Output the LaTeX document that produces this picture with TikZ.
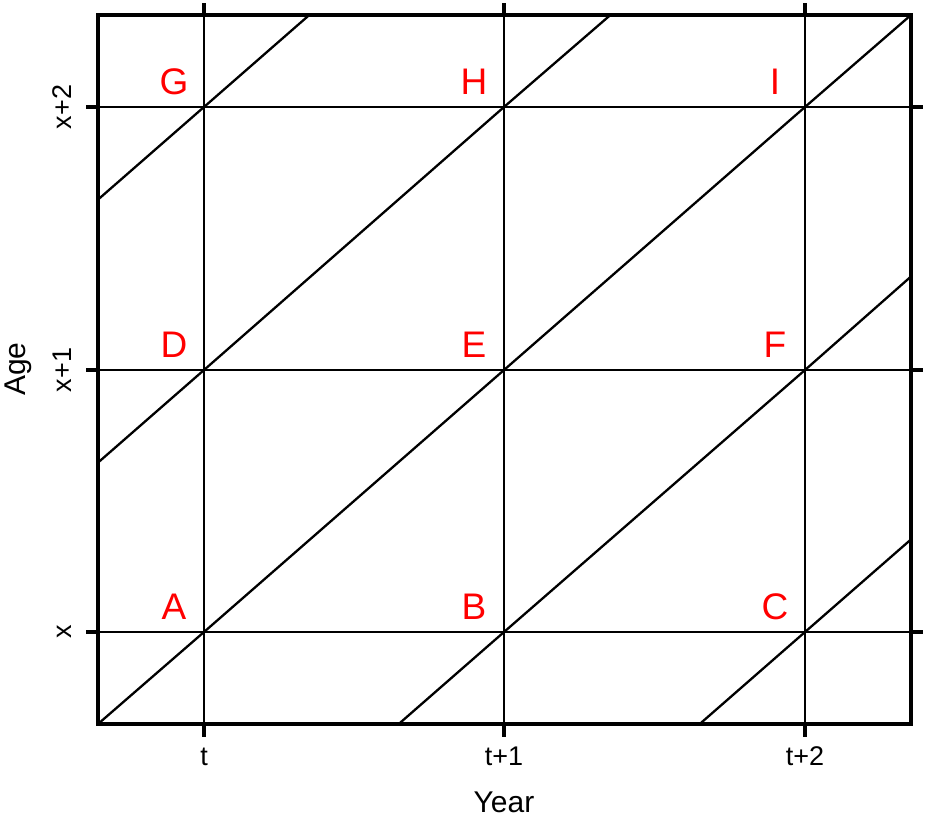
\documentclass[tikz,border=0pt]{standalone}
\usepackage{fontspec}
\setmainfont{Liberation Sans}
\begin{document}
\begin{tikzpicture}[x=1pt,y=-1pt,
  gridline/.style={line width=2.3pt},
  diagline/.style={line width=2.3pt},
  framebox/.style={line width=3.6pt, line join=miter},
  tickmark/.style={line width=3.6pt},
  lab/.style={text=red, font=\fontsize{37}{40}\selectfont, inner sep=0pt},
  ticklab/.style={font=\fontsize{27}{30}\selectfont, inner sep=0pt, anchor=base},
  axlab/.style={font=\fontsize{30}{33}\selectfont, inner sep=0pt, anchor=base}]
\useasboundingbox (0,0) rectangle (925,818);
% frame corners
\coordinate (SW) at (98,724);
\coordinate (NE) at (911,15);
% lattice points
\coordinate (A) at (204,632); \coordinate (B) at (504,632); \coordinate (C) at (805,632);
\coordinate (D) at (204,370); \coordinate (E) at (504,370); \coordinate (F) at (805,370);
\coordinate (G) at (204,107); \coordinate (H) at (504,107); \coordinate (I) at (805,107);
% grid line ends
\foreach \n/\y in {0/632,1/370,2/107}{
  \coordinate (L\n) at (98,\y); \coordinate (R\n) at (911,\y);
  \coordinate (Lt\n) at (86,\y); \coordinate (Rt\n) at (923,\y);
}
\foreach \n/\x in {0/204,1/504,2/805}{
  \coordinate (Bo\n) at (\x,724); \coordinate (To\n) at (\x,15);
  \coordinate (Bt\n) at (\x,737); \coordinate (Tt\n) at (\x,3);
}
% grid
\foreach \n in {0,1,2}{
  \draw[gridline] (L\n) -- (R\n);
  \draw[gridline] (Bo\n) -- (To\n);
}
% diagonal end points
\coordinate (k1L) at (98,462.6); \coordinate (k1T) at (610.4,15);
\coordinate (k2L) at (98,199.6); \coordinate (k2T) at (309.3,15);
\coordinate (km1B) at (398.7,724); \coordinate (km1R) at (911,276.5);
\coordinate (km2B) at (699.7,724); \coordinate (km2R) at (911,539.4);
% diagonals
\draw[diagline] (SW) -- (A) -- (E) -- (I) -- (NE);
\draw[diagline] (k1L) -- (D) -- (H) -- (k1T);
\draw[diagline] (k2L) -- (G) -- (k2T);
\draw[diagline] (km1B) -- (B) -- (F) -- (km1R);
\draw[diagline] (km2B) -- (C) -- (km2R);
% ticks
\foreach \n in {0,1,2}{
  \draw[tickmark] (Lt\n) -- (L\n);
  \draw[tickmark] (R\n) -- (Rt\n);
  \draw[tickmark] (Bo\n) -- (Bt\n);
  \draw[tickmark] (To\n) -- (Tt\n);
}
% frame
\draw[framebox] (SW) rectangle (NE);
% point labels
\foreach \p in {A,B,C,D,E,F,G,H,I}{
  \node[lab] (lab\p) at ([shift={(-30,-25)}]\p) {\p};
}
% tick labels
\node[ticklab] (tl0) at (204,765) {t};
\node[ticklab] (tl1) at (504,765) {t+1};
\node[ticklab] (tl2) at (805,765) {t+2};
\node[ticklab, rotate=90] (al0) at (71,632) {x};
\node[ticklab, rotate=90] (al1) at (71,370) {x+1};
\node[ticklab, rotate=90] (al2) at (71,107) {x+2};
% axis labels
\node[axlab] (xlab) at (504,812) {Year};
\node[axlab, rotate=90] (ylab) at (25,369) {Age};
\end{tikzpicture}
\end{document}
